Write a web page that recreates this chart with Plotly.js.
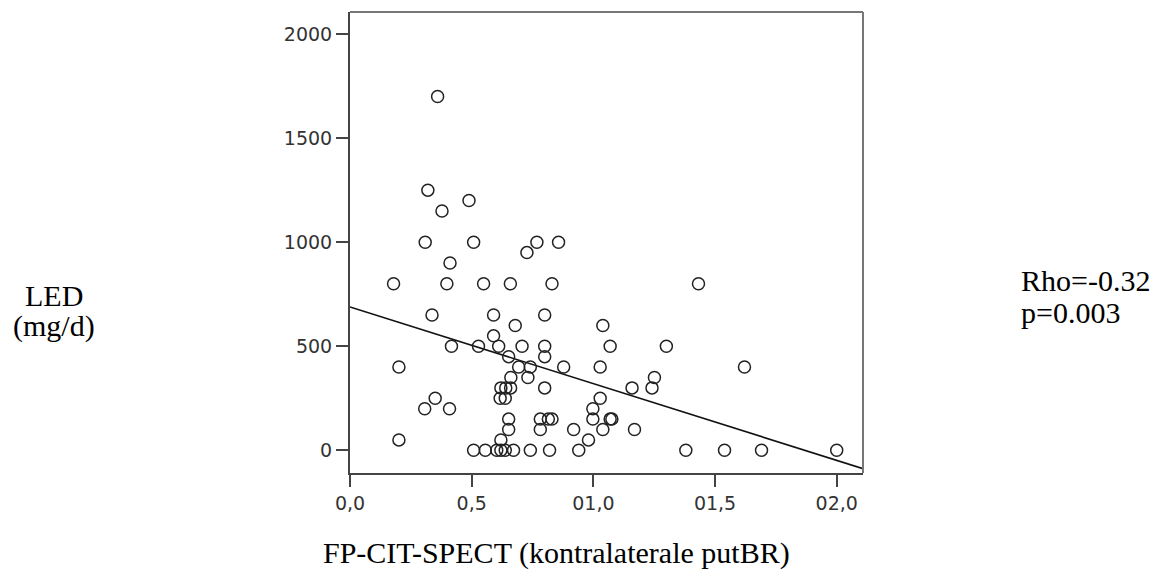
<!DOCTYPE html>
<html>
<head>
<meta charset="utf-8">
<script src="https://cdn.plot.ly/plotly-3.0.1.min.js"></script>
<style>
html,body{margin:0;padding:0;background:#fff;}
#chart{width:1168px;height:569px;}
</style>
</head>
<body>
<div id="chart"></div>
<script>
// FP-CIT-SPECT (kontralaterale putBR) values
const putBR = [
  0.36, 0.32, 0.378, 0.489, 0.309, 0.508, 0.768, 0.857, 0.727, 0.411,
  0.179, 0.398, 0.549, 0.659, 0.83, 1.432,
  0.337, 0.59, 0.80,
  0.679, 1.039,
  0.59,
  0.417, 0.528, 0.611, 0.707, 0.80, 1.069, 1.30,
  0.652, 0.80,
  0.201, 0.693, 0.741, 0.878, 1.028, 1.621,
  0.661, 0.731, 1.251,
  0.62, 0.64, 0.66, 0.80, 1.159, 1.241,
  0.35, 0.617, 0.638, 1.028,
  0.307, 0.409, 0.998,
  0.652, 0.782, 0.815, 0.83, 0.998, 1.069, 1.076,
  0.652, 0.782, 0.919, 1.039, 1.169,
  0.201, 0.62, 0.98,
  0.508, 0.556, 0.603, 0.62, 0.638, 0.672, 0.741, 0.82, 0.94, 1.38, 1.539, 1.691, 2.0
];
// LED (mg/d) values
const led = [
  1700, 1250, 1150, 1200, 1000, 1000, 1000, 1000, 950, 900,
  800, 800, 800, 800, 800, 800,
  650, 650, 650,
  600, 600,
  550,
  500, 500, 500, 500, 500, 500, 500,
  450, 450,
  400, 400, 400, 400, 400, 400,
  350, 350, 350,
  300, 300, 300, 300, 300, 300,
  250, 250, 250, 250,
  200, 200, 200,
  150, 150, 150, 150, 150, 150, 150,
  100, 100, 100, 100, 100,
  50, 50, 50,
  0, 0, 0, 0, 0, 0, 0, 0, 0, 0, 0, 0, 0
];
// Fit line
const fitIntercept = 689;
const fitSlope = -368.6;

const xTickVals = [0, 0.5, 1.0, 1.5, 2.0];
const xTickText = ["0,0", "0,5", "01,0", "01,5", "02,0"];
const yTickVals = [0, 500, 1000, 1500, 2000];
const yTickText = ["0", "500", "1000", "1500", "2000"];

const xRange = [0, 2.108];
const yRange = [-109, 2106];

const fitX = xRange.slice();
const fitY = fitX.map(v => fitIntercept + fitSlope * v);

const traces = [
  {
    x: fitX, y: fitY, type: 'scatter', mode: 'lines',
    line: {color: '#111', width: 1.6},
    hoverinfo: 'skip', showlegend: false
  },
  {
    x: putBR, y: led, type: 'scatter', mode: 'markers',
    marker: {symbol: 'circle-open', size: 12, color: '#222', line: {width: 1.5, color: '#222'}},
    showlegend: false, cliponaxis: false
  }
];

const tickFont = {family: 'DejaVu Sans, sans-serif', size: 19, color: '#333'};
const serif = 'Liberation Serif, Times New Roman, serif';
const textFont = {family: serif, size: 30, color: '#000'};

const layout = {
  width: 1168, height: 569,
  margin: {l: 350, r: 305, t: 12, b: 96, pad: 0},
  paper_bgcolor: '#fff', plot_bgcolor: '#fff',
  showlegend: false,
  xaxis: {
    range: xRange, tickvals: xTickVals, ticktext: xTickText,
    ticks: 'outside', ticklen: 12, tickwidth: 2, tickcolor: '#444',
    showline: true, linecolor: '#444', linewidth: 2,
    showgrid: false, zeroline: false, tickfont: tickFont, fixedrange: true
  },
  yaxis: {
    range: yRange, tickvals: yTickVals, ticktext: yTickText,
    ticks: 'outside', ticklen: 12, tickwidth: 2, tickcolor: '#444',
    showline: true, linecolor: '#444', linewidth: 2,
    showgrid: false, zeroline: false, tickfont: tickFont, fixedrange: true
  },
  shapes: [
    {type: 'line', xref: 'paper', yref: 'paper', x0: 0, x1: 1, y0: 1, y1: 1, line: {color: '#777', width: 2}},
    {type: 'line', xref: 'paper', yref: 'paper', x0: 1, x1: 1, y0: 0, y1: 1, line: {color: '#777', width: 2}}
  ],
  annotations: [
    {text: 'LED', xref: 'paper', yref: 'paper', x: -0.577, y: 0.386,
     xanchor: 'center', yanchor: 'middle', showarrow: false, font: textFont},
    {text: '(mg/d)', xref: 'paper', yref: 'paper', x: -0.577, y: 0.319,
     xanchor: 'center', yanchor: 'middle', showarrow: false, font: textFont},
    {text: 'Rho=-0.32', xref: 'paper', yref: 'paper', x: 1.305, y: 0.4165,
     xanchor: 'left', yanchor: 'middle', showarrow: false, font: textFont},
    {text: 'p=0.003', xref: 'paper', yref: 'paper', x: 1.305, y: 0.349,
     xanchor: 'left', yanchor: 'middle', showarrow: false, font: textFont},
    {text: 'FP-CIT-SPECT (kontralaterale putBR)', xref: 'paper', yref: 'paper', x: 0.4016, y: -0.1735,
     xanchor: 'center', yanchor: 'middle', showarrow: false, font: textFont}
  ]
};

Plotly.newPlot('chart', traces, layout, {displayModeBar: false, staticPlot: true});
</script>
</body>
</html>
